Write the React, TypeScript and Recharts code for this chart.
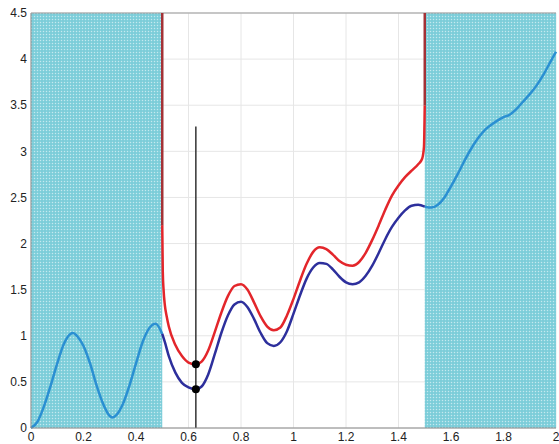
import {
  ComposedChart,
  Line,
  Scatter,
  XAxis,
  YAxis,
  CartesianGrid,
  ReferenceArea,
  ReferenceLine,
} from "recharts";

// x ticks / y ticks
const xTicks = [0, 0.2, 0.4, 0.6, 0.8, 1, 1.2, 1.4, 1.6, 1.8, 2];
const yTicks = [0, 0.5, 1, 1.5, 2, 2.5, 3, 3.5, 4, 4.5];

// shaded (outside) bands
const bands: [number, number][] = [
  [0, 0.5],
  [1.5, 2],
];

// light blue curve, left part
const leftX = [0, 0.025, 0.05, 0.075, 0.1, 0.125, 0.15, 0.16, 0.175, 0.2, 0.225, 0.25, 0.275, 0.3, 0.31, 0.325, 0.35, 0.375, 0.4, 0.425, 0.45, 0.475, 0.5];
const leftY = [0, 0.07, 0.24, 0.46, 0.7, 0.91, 1.02, 1.03, 1.0, 0.89, 0.7, 0.46, 0.26, 0.13, 0.115, 0.14, 0.26, 0.46, 0.7, 0.93, 1.08, 1.13, 1.02];

// light blue curve, right part
const rightX = [1.5, 1.525, 1.55, 1.575, 1.6, 1.625, 1.65, 1.675, 1.7, 1.725, 1.75, 1.775, 1.8, 1.825, 1.85, 1.875, 1.9, 1.925, 1.95, 1.975, 2];
const rightY = [2.4, 2.39, 2.42, 2.5, 2.62, 2.75, 2.89, 3.02, 3.13, 3.22, 3.28, 3.33, 3.37, 3.4, 3.46, 3.54, 3.62, 3.71, 3.82, 3.95, 4.08];

// dark blue curve (middle)
const blueX = [0.5, 0.51, 0.525, 0.55, 0.575, 0.6, 0.628, 0.65, 0.675, 0.7, 0.725, 0.75, 0.775, 0.8, 0.825, 0.85, 0.875, 0.9, 0.925, 0.95, 0.975, 1, 1.025, 1.05, 1.075, 1.1, 1.125, 1.15, 1.175, 1.2, 1.225, 1.25, 1.275, 1.3, 1.325, 1.35, 1.375, 1.4, 1.425, 1.45, 1.475, 1.5];
const blueY = [1.02, 0.93, 0.78, 0.6, 0.49, 0.44, 0.42, 0.45, 0.58, 0.8, 1.03, 1.22, 1.34, 1.37, 1.31, 1.18, 1.03, 0.92, 0.89, 0.93, 1.05, 1.24, 1.44, 1.62, 1.74, 1.79, 1.78, 1.72, 1.64, 1.58, 1.56, 1.58, 1.65, 1.76, 1.9, 2.05, 2.18, 2.28, 2.36, 2.41, 2.42, 2.4];

// red curve (middle)
const redX = [0.5, 0.502, 0.505, 0.51, 0.517, 0.525, 0.55, 0.575, 0.6, 0.628, 0.65, 0.675, 0.7, 0.725, 0.75, 0.775, 0.8, 0.825, 0.85, 0.875, 0.9, 0.925, 0.95, 0.975, 1, 1.025, 1.05, 1.075, 1.1, 1.125, 1.15, 1.175, 1.2, 1.225, 1.25, 1.275, 1.3, 1.325, 1.35, 1.375, 1.4, 1.425, 1.45, 1.475, 1.49, 1.497, 1.5];
const redY = [2.2, 1.7, 1.5, 1.33, 1.21, 1.1, 0.9, 0.78, 0.71, 0.69, 0.72, 0.84, 1.04, 1.25, 1.43, 1.54, 1.56, 1.5, 1.36, 1.21, 1.1, 1.06, 1.09, 1.22, 1.4, 1.6, 1.78, 1.91, 1.96, 1.94, 1.88, 1.81, 1.77, 1.76, 1.8, 1.9, 2.04, 2.2, 2.37, 2.52, 2.63, 2.72, 2.79, 2.86, 2.92, 3.05, 3.5];

// dark red vertical edges
const edgeLeftX = [0.5, 0.5];
const edgeLeftY = [4.5, 2.2];
const edgeRightX = [1.5, 1.5];
const edgeRightY = [3.5, 4.5];

// black marker line and points
const markerX = [0.628, 0.628];
const markerY = [0, 3.27];
const dotX = [0.628, 0.628];
const dotY = [0.42, 0.69];

const pts = (xs: number[], ys: number[]) => xs.map((x, i) => ({ x, y: ys[i] }));

const font = "'Liberation Sans', Arial, sans-serif";

export default function App() {
  return (
    <div style={{ position: "absolute", left: 0, top: 0, background: "#fff" }}>
      <ComposedChart width={559} height={444} margin={{ top: 13, right: 3, bottom: 0, left: 0 }}>
        <defs>
          <pattern id="dots" width="3" height="3" patternUnits="userSpaceOnUse">
            <rect width="3" height="3" fill="#7ccdd9" />
            <circle cx="1.5" cy="1.5" r="0.75" fill="#c4e9ef" />
          </pattern>
        </defs>
        <CartesianGrid stroke="#e6e6e6" />
        <XAxis
          type="number"
          dataKey="x"
          domain={[0, 2]}
          ticks={xTicks}
          height={16}
          tickSize={0}
          tickMargin={4}
          stroke="#888"
          tick={{ fill: "#222", fontSize: 12, fontFamily: font }}
          allowDuplicatedCategory={false}
        />
        <YAxis
          type="number"
          dataKey="y"
          domain={[0, 4.5]}
          ticks={yTicks}
          width={31}
          tickSize={0}
          tickMargin={4}
          stroke="#888"
          tick={{ fill: "#222", fontSize: 12, fontFamily: font }}
        />
        {bands.map(([a, b]) => (
          <ReferenceArea key={a} x1={a} x2={b} y1={0} y2={4.5} fill="url(#dots)" fillOpacity={1} stroke="none" />
        ))}
        <ReferenceLine y={4.5} stroke="#999" />
        <Line data={pts(leftX, leftY)} dataKey="y" type="monotone" stroke="#2a8fd2" strokeWidth={2.5} dot={false} isAnimationActive={false} />
        <Line data={pts(rightX, rightY)} dataKey="y" type="monotone" stroke="#2a8fd2" strokeWidth={2.5} dot={false} isAnimationActive={false} />
        <Line data={pts(blueX, blueY)} dataKey="y" type="monotone" stroke="#2d2f9c" strokeWidth={2.5} dot={false} isAnimationActive={false} />
        <Line data={pts(redX, redY)} dataKey="y" type="monotone" stroke="#e3262b" strokeWidth={2.5} dot={false} isAnimationActive={false} />
        <Line data={pts(edgeLeftX, edgeLeftY)} dataKey="y" type="linear" stroke="#a33236" strokeWidth={2.5} dot={false} isAnimationActive={false} />
        <Line data={pts(edgeRightX, edgeRightY)} dataKey="y" type="linear" stroke="#a33236" strokeWidth={2.5} dot={false} isAnimationActive={false} />
        <Line data={pts(markerX, markerY)} dataKey="y" type="linear" stroke="#333" strokeWidth={1.5} dot={false} isAnimationActive={false} />
        <Scatter data={pts(dotX, dotY)} dataKey="y" fill="#000" shape={(p: any) => <circle cx={p.cx} cy={p.cy} r={4} fill="#000" />} isAnimationActive={false} />
      </ComposedChart>
    </div>
  );
}
